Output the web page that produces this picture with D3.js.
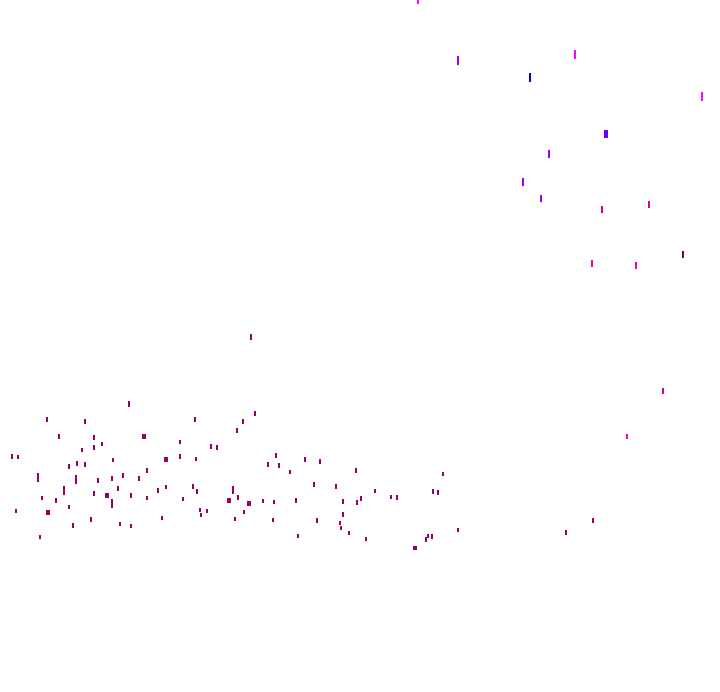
<!DOCTYPE html>
<html>
<head>
<meta charset="utf-8">
<script src="https://cdn.jsdelivr.net/npm/d3@7"></script>
<style>
    body { margin: 0; background: #fff; }
    svg { display: block; }
</style>
</head>
<body>
<div id="chart"></div>
<script>
// each point: [x, y, magnitude, box?]
const pointsMain = [
    [129, 401, 6], [47, 417, 5], [85, 419, 5], [195, 417, 5], [59, 434, 5], [94, 435, 5],
    [144, 434, 5, 1], [237, 428, 5], [82, 448, 4], [94, 445, 5], [102, 442, 4], [180, 440, 4],
    [211, 444, 5], [217, 445, 5], [12, 454, 5], [18, 455, 4], [166, 457, 5, 1], [180, 454, 5],
    [196, 457, 4], [113, 458, 4], [69, 464, 5], [77, 461, 5], [85, 462, 5], [147, 468, 5],
    [38, 473, 9], [76, 475, 9], [98, 478, 5], [112, 476, 5], [123, 473, 5], [139, 476, 5],
    [64, 486, 9], [94, 491, 5], [107, 493, 5, 1], [118, 486, 5], [112, 499, 9], [42, 496, 4],
    [56, 498, 5], [131, 493, 5], [147, 496, 4], [158, 488, 5], [166, 485, 4], [193, 484, 5],
    [197, 489, 5], [183, 497, 4], [233, 486, 8], [229, 498, 5, 1], [238, 495, 5], [16, 509, 4],
    [48, 510, 5, 1], [69, 505, 4], [200, 508, 4], [201, 513, 4], [207, 509, 4], [73, 523, 5],
    [91, 517, 5], [120, 522, 4], [131, 524, 4], [162, 516, 4], [235, 517, 4], [40, 535, 4],
    [255, 411, 5], [243, 419, 5], [276, 453, 5], [268, 462, 5], [279, 463, 5], [305, 457, 5],
    [320, 459, 5], [290, 470, 4], [356, 468, 5], [443, 472, 4], [249, 501, 5, 1], [263, 499, 4],
    [274, 500, 4], [296, 498, 5], [314, 482, 5], [336, 484, 5], [343, 499, 5], [357, 500, 5],
    [361, 496, 5], [375, 489, 4], [391, 495, 4], [397, 495, 5], [433, 489, 5], [438, 490, 5],
    [244, 510, 4], [273, 518, 4], [317, 518, 5], [343, 512, 5], [340, 521, 4], [341, 526, 4],
    [349, 531, 4], [298, 534, 4], [366, 537, 4], [415, 546, 4, 1], [426, 537, 5], [428, 534, 4],
    [432, 534, 5], [458, 528, 4], [251, 334, 6], [593, 518, 5], [566, 530, 5]
];
const pointsMagenta = [[418, -5, 9], [575, 50, 9], [702, 92, 9]];
const pointsPurple = [[458, 56, 9], [549, 150, 8], [523, 178, 8], [541, 195, 7]];
const pointsBlue = [[530, 73, 9]];
const pointsViolet = [[606, 130, 8, 1]];
const pointsRose = [[602, 206, 7], [649, 201, 7], [663, 388, 6]];
const pointsWine = [[683, 251, 7]];
const pointsPink = [[592, 260, 7], [636, 262, 7], [627, 434, 5]];

const seriesNames = ['main', 'magenta', 'purple', 'blue', 'violet', 'rose', 'wine', 'pink'];
const seriesColours = ['#990066', '#ff00ff', '#9900ff', '#0000cc', '#6600ff', '#cc0099', '#770055', '#ff0099'];

const width = 720
const height = 692

const svg = d3.select('#chart')
    .append('svg')
    .attr('width', width)
    .attr('height', height)
    .attr('viewBox', [0, 0, width, height]);

const x = d3.scaleLinear().domain([0, 720]).range([0, width]);
const y = d3.scaleLinear().domain([0, 692]).range([0, height]);
const size = d3.scaleLinear().domain([4, 9]).range([4, 9]);
const colour = d3.scaleOrdinal().domain(seriesNames).range(seriesColours);

const allSeries = [pointsMain, pointsMagenta, pointsPurple, pointsBlue, pointsViolet, pointsRose, pointsWine, pointsPink];
const data = allSeries.flatMap((pts, i) => pts.map(p => ({
    x: p[0], y: p[1], mag: p[2], box: !!p[3], series: seriesNames[i]
})));

svg.append('g')
    .attr('id', 'marks')
    .attr('shape-rendering', 'crispEdges')
    .selectAll('rect')
    .data(data)
    .enter()
    .append('rect')
    .attr('x', d => Math.round(x(d.x) - (d.box ? 2 : 1)))
    .attr('y', d => Math.round(y(d.y)))
    .attr('width', d => d.box ? 4 : 2)
    .attr('height', d => size(d.mag))
    .attr('fill', d => colour(d.series));
</script>
</body>
</html>
